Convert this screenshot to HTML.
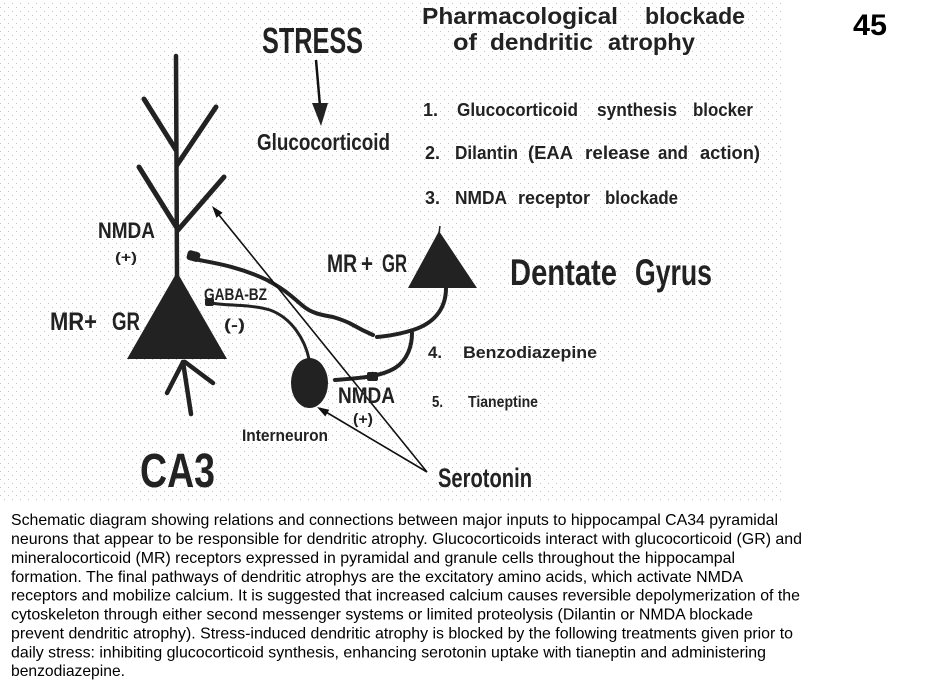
<!DOCTYPE html>
<html><head><meta charset="utf-8"><style>
html,body{margin:0;padding:0;background:#fff;}
svg{display:block;}
.b{font-family:"Liberation Sans",Arial,sans-serif;font-weight:bold;fill:#222;}
.c{font-family:"Liberation Sans",Arial,sans-serif;font-size:16px;fill:#000;}
</style></head><body>
<svg width="929" height="688" viewBox="0 0 929 688" xmlns="http://www.w3.org/2000/svg">
<defs>
<pattern id="d" width="8" height="8" patternUnits="userSpaceOnUse">
<rect x="4" y="3" width="1" height="1" fill="#c4c4c4"/>
<rect x="0" y="7" width="1" height="1" fill="#c4c4c4"/>
</pattern>
</defs>
<rect x="0" y="0" width="929" height="688" fill="#fff"/>
<rect x="0" y="0" width="782" height="503" fill="url(#d)"/>

<!-- CA3 dendrites -->
<g stroke="#222" stroke-linecap="round" fill="none">
<line x1="176" y1="56" x2="177" y2="276" stroke-width="4.5"/>
<line x1="144" y1="99" x2="176" y2="150" stroke-width="5"/>
<line x1="216" y1="107" x2="177" y2="165" stroke-width="5"/>
<line x1="139" y1="167" x2="177" y2="228" stroke-width="5"/>
<line x1="224" y1="177" x2="178" y2="230" stroke-width="5"/>
<line x1="183" y1="362" x2="167" y2="393" stroke-width="4.5"/>
<line x1="183" y1="362" x2="191" y2="414" stroke-width="4.5"/>
<line x1="185" y1="362" x2="213" y2="383" stroke-width="4.5"/>
</g>
<polygon points="177,272 127,359 227,359" fill="#222"/>

<!-- Dentate gyrus neuron -->
<polygon points="439,231 408,288 477,288" fill="#222"/>
<line x1="440" y1="226" x2="439" y2="233" stroke="#222" stroke-width="1.5"/>

<!-- fibers -->
<g stroke="#222" fill="none" stroke-linecap="round">
<path d="M199,260 C 215,263 240,267 267,280 C 278,286 284,290 290,295 C 300,303 305,309 313,312 C 320,315 327,316 333,317 C 343,320 348,322 353,325 C 360,329 366,332 373,335" stroke-width="4"/>
<path d="M446,288 C 446,305 438,322 413,330 C 400,334 390,336 377,337" stroke-width="4"/>
<path d="M335,380 C 360,378 380,377 395,368 C 408,360 412,345 412,333" stroke-width="4"/>
<path d="M309,359 C 305,340 292,318 270,310 C 250,304 225,306 212,303" stroke-width="3"/>
</g>
<rect x="187" y="251" width="13" height="10" rx="3" fill="#222" transform="rotate(15 193 256)"/>
<rect x="205" y="298" width="9" height="8" rx="2" fill="#222"/>
<rect x="367" y="372" width="11" height="9" rx="2" fill="#222"/>

<!-- interneuron -->
<ellipse cx="309.5" cy="383" rx="18.5" ry="25" fill="#222"/>

<!-- thin arrows -->
<g stroke="#111" stroke-width="1.6" fill="none">
<line x1="427" y1="472" x2="219" y2="215"/>
<line x1="427" y1="472" x2="326" y2="412"/>
<line x1="316" y1="60" x2="320" y2="106" stroke-width="2.5"/>
</g>
<polygon points="212,206 222.6,212.8 216.4,217.8" fill="#111"/>
<polygon points="317,407 329.3,409.7 325.3,416.5" fill="#111"/>
<polygon points="312,103 328,103 321,126" fill="#222"/>

<!-- labels -->
<text class="b" x="262" y="53" font-size="36" textLength="101" lengthAdjust="spacingAndGlyphs">STRESS</text>
<text class="b" x="257" y="150" font-size="23" textLength="133" lengthAdjust="spacingAndGlyphs">Glucocorticoid</text>

<text class="b" x="422" y="24" font-size="23" textLength="196" lengthAdjust="spacingAndGlyphs">Pharmacological</text>
<text class="b" x="645" y="24" font-size="23" textLength="100" lengthAdjust="spacingAndGlyphs">blockade</text>
<text class="b" x="453" y="50" font-size="23" textLength="24" lengthAdjust="spacingAndGlyphs">of</text>
<text class="b" x="490" y="50" font-size="23" textLength="103" lengthAdjust="spacingAndGlyphs">dendritic</text>
<text class="b" x="608" y="50" font-size="23" textLength="87" lengthAdjust="spacingAndGlyphs">atrophy</text>

<text class="b" x="423" y="116" font-size="18" textLength="15" lengthAdjust="spacingAndGlyphs">1.</text>
<text class="b" x="457" y="116" font-size="18" textLength="121" lengthAdjust="spacingAndGlyphs">Glucocorticoid</text>
<text class="b" x="597" y="116" font-size="18" textLength="80" lengthAdjust="spacingAndGlyphs">synthesis</text>
<text class="b" x="693" y="116" font-size="18" textLength="60" lengthAdjust="spacingAndGlyphs">blocker</text>

<text class="b" x="425" y="159" font-size="18" textLength="15" lengthAdjust="spacingAndGlyphs">2.</text>
<text class="b" x="455" y="159" font-size="18" textLength="63" lengthAdjust="spacingAndGlyphs">Dilantin</text>
<text class="b" x="528" y="159" font-size="18" textLength="45" lengthAdjust="spacingAndGlyphs">(EAA</text>
<text class="b" x="585" y="159" font-size="18" textLength="65" lengthAdjust="spacingAndGlyphs">release</text>
<text class="b" x="658" y="159" font-size="18" textLength="30" lengthAdjust="spacingAndGlyphs">and</text>
<text class="b" x="700" y="159" font-size="18" textLength="60" lengthAdjust="spacingAndGlyphs">action)</text>

<text class="b" x="425" y="204" font-size="18" textLength="15" lengthAdjust="spacingAndGlyphs">3.</text>
<text class="b" x="455" y="204" font-size="18" textLength="52" lengthAdjust="spacingAndGlyphs">NMDA</text>
<text class="b" x="518" y="204" font-size="18" textLength="72" lengthAdjust="spacingAndGlyphs">receptor</text>
<text class="b" x="605" y="204" font-size="18" textLength="73" lengthAdjust="spacingAndGlyphs">blockade</text>

<text class="b" x="853" y="35" font-size="30" textLength="34" lengthAdjust="spacingAndGlyphs" style="fill:#000">45</text>

<text class="b" x="98" y="238" font-size="22" textLength="57" lengthAdjust="spacingAndGlyphs">NMDA</text>
<text class="b" x="115" y="262" font-size="14" textLength="22" lengthAdjust="spacingAndGlyphs">(+)</text>
<text class="b" x="50" y="330" font-size="25" textLength="47" lengthAdjust="spacingAndGlyphs">MR+</text>
<text class="b" x="112" y="330" font-size="25" textLength="28" lengthAdjust="spacingAndGlyphs">GR</text>
<text class="b" x="204" y="300" font-size="17" textLength="63" lengthAdjust="spacingAndGlyphs">GABA-BZ</text>
<text class="b" x="224" y="330" font-size="16" textLength="21" lengthAdjust="spacingAndGlyphs">(-)</text>

<text class="b" x="327" y="272" font-size="25" textLength="30" lengthAdjust="spacingAndGlyphs">MR</text>
<text class="b" x="361" y="272" font-size="25" textLength="12" lengthAdjust="spacingAndGlyphs">+</text>
<text class="b" x="382" y="272" font-size="25" textLength="25" lengthAdjust="spacingAndGlyphs">GR</text>

<text class="b" x="510" y="285" font-size="37" textLength="107" lengthAdjust="spacingAndGlyphs">Dentate</text>
<text class="b" x="635" y="285" font-size="37" textLength="77" lengthAdjust="spacingAndGlyphs">Gyrus</text>

<text class="b" x="428" y="358" font-size="17" textLength="14" lengthAdjust="spacingAndGlyphs">4.</text>
<text class="b" x="463" y="358" font-size="17" textLength="134" lengthAdjust="spacingAndGlyphs">Benzodiazepine</text>
<text class="b" x="432" y="407" font-size="16" textLength="11" lengthAdjust="spacingAndGlyphs">5.</text>
<text class="b" x="468" y="407" font-size="16" textLength="70" lengthAdjust="spacingAndGlyphs">Tianeptine</text>

<text class="b" x="338" y="403" font-size="22" textLength="57" lengthAdjust="spacingAndGlyphs">NMDA</text>
<text class="b" x="353" y="424" font-size="15" textLength="20" lengthAdjust="spacingAndGlyphs">(+)</text>
<text class="b" x="242" y="441" font-size="17" textLength="86" lengthAdjust="spacingAndGlyphs">Interneuron</text>
<text class="b" x="140" y="487" font-size="48" textLength="75" lengthAdjust="spacingAndGlyphs">CA3</text>
<text class="b" x="438" y="487" font-size="27" textLength="94" lengthAdjust="spacingAndGlyphs">Serotonin</text>

<!-- caption -->
<text class="c" x="11" y="525" textLength="767" lengthAdjust="spacingAndGlyphs">Schematic diagram showing relations and connections between major inputs to hippocampal CA34 pyramidal</text>
<text class="c" x="11" y="544" textLength="791" lengthAdjust="spacingAndGlyphs">neurons that appear to be responsible for dendritic atrophy. Glucocorticoids interact with glucocorticoid (GR) and</text>
<text class="c" x="11" y="563" textLength="724" lengthAdjust="spacingAndGlyphs">mineralocorticoid (MR) receptors expressed in pyramidal and granule cells throughout the hippocampal</text>
<text class="c" x="11" y="582" textLength="732" lengthAdjust="spacingAndGlyphs">formation. The final pathways of dendritic atrophys are the excitatory amino acids, which activate NMDA</text>
<text class="c" x="11" y="600.5" textLength="789" lengthAdjust="spacingAndGlyphs">receptors and mobilize calcium. It is suggested that increased calcium causes reversible depolymerization of the</text>
<text class="c" x="11" y="619.5" textLength="742" lengthAdjust="spacingAndGlyphs">cytoskeleton through either second messenger systems or limited proteolysis (Dilantin or NMDA blockade</text>
<text class="c" x="11" y="638.5" textLength="782" lengthAdjust="spacingAndGlyphs">prevent dendritic atrophy). Stress-induced dendritic atrophy is blocked by the following treatments given prior to</text>
<text class="c" x="11" y="657.5" textLength="755" lengthAdjust="spacingAndGlyphs">daily stress: inhibiting glucocorticoid synthesis, enhancing serotonin uptake with tianeptin and administering</text>
<text class="c" x="11" y="676" textLength="114" lengthAdjust="spacingAndGlyphs">benzodiazepine.</text>
</svg>
</body></html>
